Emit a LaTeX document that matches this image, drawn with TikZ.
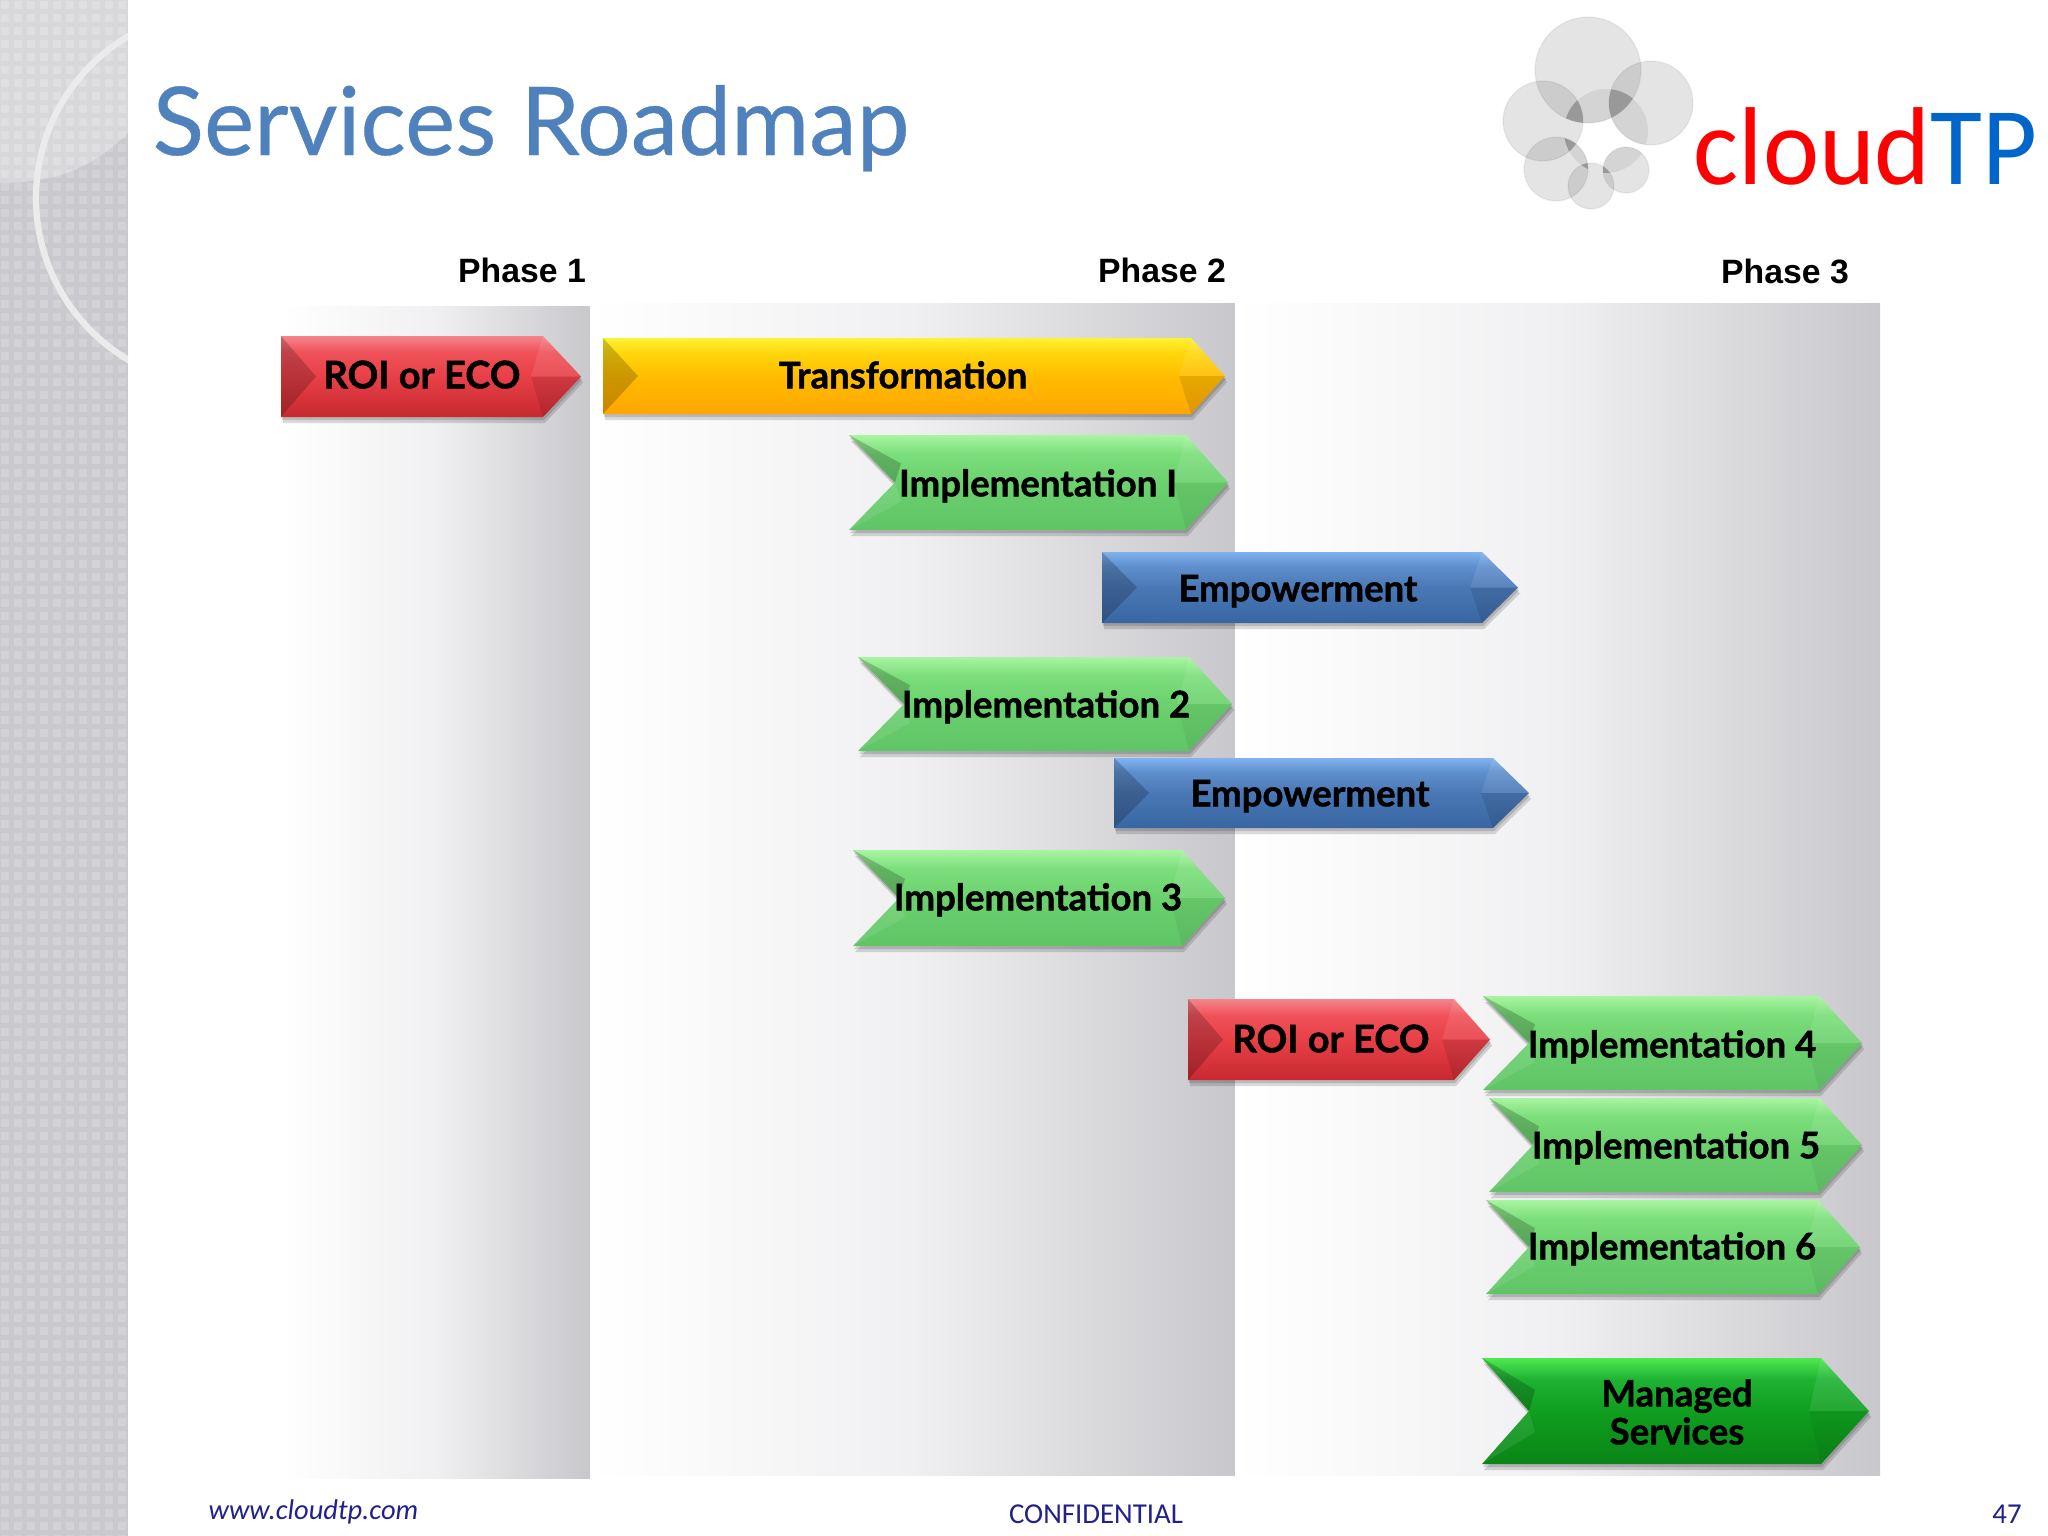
\documentclass[tikz,border=0pt]{standalone}
\usepackage{fontspec}
\setmainfont{Lato}
\newfontfamily\titlefont{Lato}[FakeBold=0.4]
\newfontfamily\barfont{Lato}[BoldFeatures={FakeBold=1.2}]
\newfontfamily\phasefont{Liberation Sans}
\newfontfamily\footfont{Carlito}
\newfontfamily\logofont{Carlito}[FakeStretch=0.96]
\usetikzlibrary{positioning, calc}

\definecolor{titleblue}{HTML}{4F81BD}
\definecolor{footblue}{HTML}{22208A}
\definecolor{logored}{HTML}{FF0000}
\definecolor{logoblue}{HTML}{0066CC}
\definecolor{stripgray}{HTML}{CACACE}
\definecolor{tilegray}{HTML}{D3D3D7}
\definecolor{bandmid}{HTML}{F0F0F2}
\definecolor{bandend}{HTML}{C8C8CC}

\pgfdeclarehorizontalshading{phaseband}{100bp}{color(0bp)=(white); color(25bp)=(white); color(50bp)=(bandmid); color(75bp)=(bandend); color(100bp)=(bandend)}

% bottom to top, the box of the path runs from 25bp to 75bp
\newcommand{\barshading}[5]{
    \pgfdeclareverticalshading{#1}{100bp}{rgb(0bp)=(#2); rgb(25bp)=(#2); rgb(50bp)=(#3); rgb(65bp)=(#4); rgb(75bp)=(#5); rgb(100bp)=(#5)}
}
\barshading{redbar}{0.78,0.16,0.19}{0.91,0.25,0.28}{0.94,0.32,0.35}{0.96,0.52,0.55}
\barshading{orangebar}{1,0.65,0}{1,0.74,0}{1,0.84,0.05}{1,0.95,0.2}
\barshading{greenbar}{0.37,0.77,0.40}{0.42,0.82,0.43}{0.48,0.87,0.48}{0.66,0.96,0.63}
\barshading{bluebar}{0.22,0.40,0.64}{0.29,0.47,0.71}{0.37,0.56,0.80}{0.50,0.70,0.94}
\barshading{darkgreenbar}{0.04,0.52,0.09}{0.06,0.62,0.12}{0.12,0.70,0.20}{0.31,0.91,0.31}

\tikzset{
    barshadow/.style={fill=black, fill opacity=0.14},
    facetdark/.style={fill=black, fill opacity=0.2},
    facetsoft/.style={fill=black, fill opacity=0.05},
    facetlight/.style={fill=white, fill opacity=0.09},
    bartext/.style={font=\barfont\bfseries\fontsize{10.4}{10.8}\selectfont, text=black, inner sep=0pt, text height=7pt, text depth=0pt},
    roitext/.style={bartext, font=\barfont\bfseries\fontsize{10.8}{12}\selectfont},
    phaselabel/.style={font=\phasefont\bfseries\fontsize{9.6}{11}\selectfont, text=black, inner sep=0pt},
    foottext/.style={font=\footfont\fontsize{8.2}{9}\selectfont, text=footblue, inner sep=0pt},
    logodisc/.style={fill=black, fill opacity=0.105, draw=black, draw opacity=0.05, line width=0.4pt},
    logolens/.style={fill=black, fill opacity=0.07},
    logowedge/.style={fill=black!40}
}

% shading, left, notch, shoulder, tip, top, bottom
\newcommand{\chevronbar}[7]{
    \pgfmathsetmacro{\ymid}{(#6+#7)/2}
    \pgfmathsetmacro{\yup}{#6+0.3*(#7-#6)}
    \pgfmathsetmacro{\ylow}{#7-0.3*(#7-#6)}
    \fill[barshadow] (#2+1,#6+3) -- (#4+1,#6+3) -- (#5+1,\ymid+3) -- (#4+1,#7+3) -- (#2+1,#7+3) -- (#3+1,\ymid+3) -- cycle;
    \fill[barshadow] (#2+2,#6+6) -- (#4+2,#6+6) -- (#5+2,\ymid+6) -- (#4+2,#7+6) -- (#2+2,#7+6) -- (#3+2,\ymid+6) -- cycle;
    \shade[shading=#1] (#2,#6) -- (#4,#6) -- (#5,\ymid) -- (#4,#7) -- (#2,#7) -- (#3,\ymid) -- cycle;
    \fill[facetdark] (#2,#6) -- (#3+6,\yup) -- (#3,\ymid) -- cycle;
    \fill[facetlight] (#2,#7) -- (#3+6,\ylow) -- (#3,\ymid) -- cycle;
    \fill[facetlight] (#4,#6) -- (#5,\ymid) -- (#4-12,\ymid) -- cycle;
    \fill[facetsoft] (#4,#7) -- (#5,\ymid) -- (#4-12,\ymid) -- cycle;
}
\newcommand{\flatbar}[7]{
    \pgfmathsetmacro{\ymid}{(#6+#7)/2}
    \fill[barshadow] (#2+1,#6+3) -- (#4+1,#6+3) -- (#5+1,\ymid+3) -- (#4+1,#7+3) -- (#2+1,#7+3) -- cycle;
    \fill[barshadow] (#2+2,#6+6) -- (#4+2,#6+6) -- (#5+2,\ymid+6) -- (#4+2,#7+6) -- (#2+2,#7+6) -- cycle;
    \shade[shading=#1] (#2,#6) -- (#4,#6) -- (#5,\ymid) -- (#4,#7) -- (#2,#7) -- cycle;
    \fill[facetdark] (#2,#6) -- (#2+35,\ymid) -- (#2,#7) -- cycle;
    \fill[facetlight] (#4,#6) -- (#5,\ymid) -- (#4-12,\ymid) -- cycle;
    \fill[facetdark, fill opacity=0.1] (#4,#7) -- (#5,\ymid) -- (#4-12,\ymid) -- cycle;
}
\newcommand{\logotriple}[3]{
    \begin{scope}
        \clip #1;
        \clip #2;
        \fill[logowedge] #3;
    \end{scope}
}
\newcommand{\logopair}[2]{
    \begin{scope}
        \clip #1;
        \fill[logolens] #2;
    \end{scope}
}
\def\disctop{(1588,70) circle [radius=53]}
\def\discright{(1651,103) circle [radius=42]}
\def\discleft{(1543,121) circle [radius=40]}
\def\disclow{(1556,169) circle [radius=32]}
\def\discfoot{(1591,186) circle [radius=23]}
\def\discside{(1626,170) circle [radius=23]}
\def\discmid{(1606,131) circle [radius=42]}

\begin{document}
\begin{tikzpicture}[x=0.01cm, y=-0.01cm]
    \useasboundingbox (0,0) rectangle (2048,1536);

    \fill[stripgray] (0,0) rectangle (128,1536);
    \foreach \i in {0,...,9}
        \foreach \j in {0,...,118}
            \fill[tilegray] (\i*13+1,\j*13+1) rectangle +(8,8);
    \fill[white, fill opacity=0.28] (0,0) -- (128,0) -- (128,133) .. controls (95,165) and (60,183) .. (0,183) -- cycle;
    \begin{scope}
        \clip (0,0) rectangle (128,1536);
        \draw[white!92!black, line width=1.8pt] (224,198) circle [radius=188];
    \end{scope}

    \shade[shading=phaseband] (281,306) rectangle (590,1478);
    \shade[shading=phaseband] (590,303) rectangle (1235,1475);
    \shade[shading=phaseband] (1235,303) rectangle (1880,1475);

    \node[anchor=base west, inner sep=0pt, font=\titlefont\fontsize{27}{32}\selectfont, text=titleblue] (title) at (152,155) {Services Roadmap};

    \fill[logodisc] \disctop;
    \fill[logodisc] \discright;
    \fill[logodisc] \discleft;
    \fill[logodisc] \disclow;
    \fill[logodisc] \discfoot;
    \fill[logodisc] \discside;
    \logopair{\disctop}{\discmid}
    \logopair{\discright}{\discmid}
    \logopair{\disclow}{\discmid}
    \logopair{\discside}{\discmid}
    \logotriple{\disctop}{\discleft}{\discmid}
    \logotriple{\disctop}{\discright}{\discmid}
    \logotriple{\discleft}{\disclow}{\discmid}
    \logotriple{\disclow}{\discfoot}{\discmid}
    \logotriple{\discfoot}{\discside}{\discmid}
    \logotriple{\discside}{\discright}{\discmid}
    \node[anchor=base west, inner sep=0pt, font=\logofont\fontsize{31.5}{36}\selectfont] (logo) at (1693,184) {\textcolor{logored}{cloud}\textcolor{logoblue}{TP}};

    \node[phaselabel] (phase1) at (522,270) {Phase 1};
    \node[phaselabel] (phase2) at (1162,270) {Phase 2};
    \node[phaselabel] (phase3) at (1785,271) {Phase 3};

    \flatbar{redbar}{281}{281}{543}{581}{336}{417}
    \flatbar{orangebar}{603}{603}{1191}{1225}{338}{414}
    \chevronbar{greenbar}{849}{895}{1186}{1228}{435}{530}
    \flatbar{bluebar}{1102}{1102}{1482}{1518}{552}{623}
    \chevronbar{greenbar}{858}{904}{1189}{1232}{657}{751}
    \flatbar{bluebar}{1114}{1114}{1493}{1529}{758}{828}
    \chevronbar{greenbar}{853}{899}{1182}{1225}{850}{946}
    \flatbar{redbar}{1188}{1188}{1454}{1490}{999}{1080}
    \chevronbar{greenbar}{1483}{1529}{1819}{1862}{996}{1090}
    \chevronbar{greenbar}{1489}{1533}{1819}{1862}{1098}{1192}
    \chevronbar{greenbar}{1486}{1529}{1818}{1860}{1200}{1294}
    \chevronbar{darkgreenbar}{1482}{1529}{1821}{1869}{1358}{1464}

    \node[roitext] (roi1) at (422,376) {ROI or ECO};
    \node[bartext] (transformation) at (903,376) {Transformation};
    \node[bartext] (impl1) at (1038,484) {Implementation I};
    \node[bartext] (empower1) at (1298,589) {Empowerment};
    \node[bartext] (impl2) at (1046,705) {Implementation 2};
    \node[bartext] (empower2) at (1310,794) {Empowerment};
    \node[bartext] (impl3) at (1038,898) {Implementation 3};
    \node[roitext] (roi2) at (1331,1040) {ROI or ECO};
    \node[bartext] (impl4) at (1672,1045) {Implementation 4};
    \node[bartext] (impl5) at (1676,1146) {Implementation 5};
    \node[bartext] (impl6) at (1672,1247) {Implementation 6};
    \node[bartext, text height=, text depth=, align=center] (managed) at (1677,1412) {Managed\\Services};

    \node[foottext, anchor=west, font=\footfont\itshape\fontsize{8.1}{9}\selectfont] (website) at (208,1512) {www.cloudtp.com};
    \node[foottext] (confidential) at (1096,1514) {CONFIDENTIAL};
    \node[foottext] (pagenum) at (2007,1514) {47};
\end{tikzpicture}
\end{document}
